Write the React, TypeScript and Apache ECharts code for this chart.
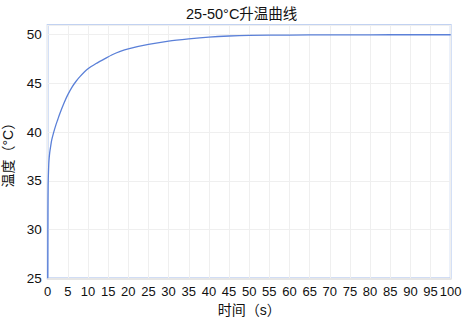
import React, { useEffect, useRef } from "react";
import * as echarts from "echarts";

const titleText = "25-50°C升温曲线";
const xName = "时间（s）";
const yName = "温度（°C）";
const timeS = [0, 0.05, 0.1, 0.2, 0.3, 0.5, 0.75, 1, 1.5, 2, 2.5, 3, 4, 5, 6, 7, 8, 10, 12, 14, 16, 18, 20, 25, 30, 35, 40, 45, 50, 60, 70, 80, 90, 100];
const tempC = [25, 32, 34.5, 36, 37, 37.9, 38.6, 39.2, 40.0, 40.7, 41.3, 41.9, 42.95, 43.85, 44.6, 45.2, 45.7, 46.5, 47.05, 47.5, 47.95, 48.3, 48.56, 49.0, 49.35, 49.58, 49.76, 49.87, 49.93, 49.97, 49.985, 49.995, 50, 50];

const FONT = "'Liberation Sans', 'Noto Sans CJK SC', sans-serif";

export default function App() {
  const ref = useRef<HTMLDivElement>(null);
  useEffect(() => {
    if (!ref.current) return;
    const chart = echarts.init(ref.current, undefined, { renderer: "svg" });
    const data = timeS.map((t, i) => [t, tempC[i]]);
    chart.setOption({
      animation: false,
      textStyle: { fontFamily: FONT },
      title: {
        text: titleText,
        left: 181,
        top: 2,
        textStyle: { fontSize: 14.5, fontWeight: "normal", color: "#111", fontFamily: FONT },
      },
      grid: {
        left: 47.7,
        right: 11.3,
        top: 25,
        bottom: 40.7,
        containLabel: false,
        outerBoundsMode: "none",
        show: true,
        borderColor: "rgba(120,155,225,0.45)",
        borderWidth: 2,
      },
      xAxis: {
        type: "value",
        min: 0,
        max: 100,
        interval: 5,
        name: xName,
        nameLocation: "middle",
        nameGap: 24,
        nameTextStyle: { fontSize: 14, color: "#111", fontFamily: FONT },
        axisLine: { show: true, lineStyle: { color: "#e6e6e6", width: 2 } },
        axisTick: { show: false },
        axisLabel: { fontSize: 13, color: "#111", margin: 7, fontFamily: FONT },
        splitLine: { show: true, lineStyle: { color: "#efefef", width: 1 } },
      },
      yAxis: {
        type: "value",
        min: 25,
        max: 51,
        interval: 5,
        name: yName,
        nameLocation: "middle",
        nameGap: 33,
        nameTextStyle: { fontSize: 14, color: "#111", fontFamily: FONT },
        axisLine: { show: false },
        axisTick: { show: false },
        axisLabel: { fontSize: 13.5, color: "#111", margin: 6, showMaxLabel: false, fontFamily: FONT },
        splitLine: { show: true, lineStyle: { color: "#efefef", width: 1 } },
      },
      series: [
        {
          type: "line",
          data,
          smooth: 0.25,
          showSymbol: false,
          lineStyle: { color: "#5b80d8", width: 1.3 },
        },
      ],
    });
    return () => chart.dispose();
  }, []);
  return (
    <div
      ref={ref}
      style={{ position: "absolute", left: 0, top: 0, width: 462, height: 319 }}
    />
  );
}
